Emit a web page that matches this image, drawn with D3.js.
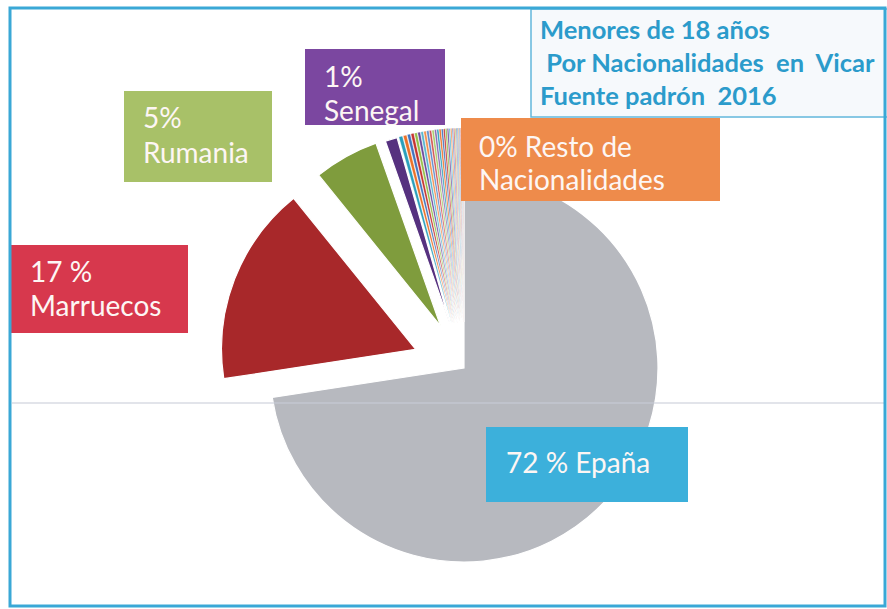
<!DOCTYPE html>
<html><head><meta charset="utf-8">
<script src="https://cdn.jsdelivr.net/npm/d3@7"></script>
<style>html,body{margin:0;padding:0;background:#fff;} svg{display:block;}</style>
</head><body>
<svg id="chart" width="887" height="609"></svg>
<script>
// ---------- DATA ----------
const titleLines = ["Menores de 18 años", " Por Nacionalidades  en  Vicar", "Fuente padrón  2016"];

const mainCategories = ["España", "Marruecos", "Rumania", "Senegal"];
const mainValues = [72.5, 16.6, 5.4, 1.0];

const restCategories = ["Mali","Guinea","Ghana","Nigeria","Gambia","Mauritania","Guinea-Bissau","Argelia",
  "Bulgaria","Lituania","Rusia","Ucrania","Polonia","Argentina","Ecuador","Colombia","Bolivia","Paraguay",
  "Brasil","Uruguay","Venezuela","Cuba","Perú","Rep. Dominicana","China","Portugal","Italia","Francia",
  "Alemania","Reino Unido","Países Bajos","Bélgica","Costa de Marfil","Camerún"];
const restValues = [0.30,0.28,0.25,0.24,0.22,0.21,0.20,0.19,0.18,0.18,0.17,0.16,0.15,0.15,0.14,0.13,0.12,
  0.12,0.11,0.10,0.10,0.09,0.08,0.08,0.07,0.06,0.06,0.05,0.05,0.04,0.04,0.03,0.03,0.02];

const labelKeys  = ["Senegal", "Rumania", "Marruecos", "Resto", "España"];
const labelLines = [["1%", "Senegal"], ["5%", "Rumania"], ["17 %", "Marruecos"],
                    ["0% Resto de", "Nacionalidades"], ["72 % Epaña"]];

// ---------- STYLE / LAYOUT ----------
const W = 887, H = 609;
const center = {x: 464, y: 368};
const R = 194;
const explode = {"España": 0, "Marruecos": 52, "Rumania": 48};
const explodeRest = 46;
const mainColors = {"España": "#b7b9bf", "Marruecos": "#a8282a", "Rumania": "#7f9c3d", "Senegal": "#56317f"};
const restPalette = ["#2a9fbb","#ec7128","#4174bd","#c5322f","#93be47","#6c489b",
                     "#58b6cf","#f28e4c","#5f8ccb","#d25553","#a9cc6c","#8668b1"];
const labelStyle = {
  "Senegal":   {x: 305, y: 49,  w: 140, h: 76, fill: "#7b47a0", tx: 19, base: [38, 72]},
  "Rumania":   {x: 124, y: 91,  w: 148, h: 91, fill: "#a8c168", tx: 19, base: [37, 72]},
  "Marruecos": {x: 11,  y: 245, w: 177, h: 88, fill: "#d7384d", tx: 19, base: [37, 71]},
  "Resto":     {x: 461, y: 118, w: 259, h: 83, fill: "#ee8b4b", tx: 18, base: [39, 72]},
  "España":    {x: 486, y: 427, w: 202, h: 75, fill: "#3cb0db", tx: 20, base: [46]}
};

// ---------- BUILD ----------
const data = mainCategories.map((c, i) => ({cat: c, value: mainValues[i]}))
  .concat(restCategories.map((c, i) => ({cat: c, value: restValues[i], rest: true, idx: i})));

const color = d3.scaleOrdinal()
  .domain(data.map(d => d.cat))
  .range(data.map(d => d.rest ? restPalette[d.idx % restPalette.length] : mainColors[d.cat]));

const svg = d3.select("#chart");
svg.append("rect").attr("x", 0).attr("y", 0).attr("width", W).attr("height", H).attr("fill", "#ffffff");

const pie = d3.pie().sort(null).value(d => d.value).startAngle(0).endAngle(2 * Math.PI);
const arcGen = d3.arc().innerRadius(0).outerRadius(R);
const arcs = pie(data);

const g = svg.append("g").attr("transform", `translate(${center.x},${center.y})`);
g.selectAll("path.slice").data(arcs).join("path")
  .attr("class", "slice")
  .attr("d", arcGen)
  .attr("fill", d => color(d.data.cat))
  .attr("stroke", "#ffffff")
  .attr("stroke-width", d => d.data.rest ? 0.35 : 1.2)
  .attr("transform", d => {
    const off = d.data.cat in explode ? explode[d.data.cat] : explodeRest;
    const mid = (d.startAngle + d.endAngle) / 2;
    return `translate(${Math.sin(mid) * off},${-Math.cos(mid) * off})`;
  });

// faint horizontal scan line
svg.append("line").attr("x1", 12).attr("x2", 884).attr("y1", 403).attr("y2", 403)
  .attr("stroke", "#c9ced8").attr("stroke-width", 1.5).attr("opacity", 0.7);

// title box
svg.append("rect").attr("x", 531).attr("y", 9).attr("width", 370).attr("height", 108)
  .attr("fill", "#f6f9fc").attr("stroke", "#62b7dc").attr("stroke-width", 1.5);
svg.append("g").selectAll("text").data(titleLines).join("text")
  .attr("x", 540).attr("y", (d, i) => 39 + i * 33)
  .attr("xml:space", "preserve").style("white-space", "pre")
  .attr("font-family", "Lato, 'Open Sans', sans-serif").attr("font-weight", 700)
  .attr("font-size", 25.5).attr("fill", "#2b9bcb")
  .text(d => d);

// labels
const defs = svg.append("defs");
labelKeys.forEach((k, i) => {
  const s = labelStyle[k];
  defs.append("clipPath").attr("id", "clip" + i)
    .append("rect").attr("x", s.x).attr("y", s.y).attr("width", s.w).attr("height", s.h);
  const lg = svg.append("g").attr("clip-path", `url(#clip${i})`);
  lg.append("rect").attr("x", s.x).attr("y", s.y).attr("width", s.w).attr("height", s.h).attr("fill", s.fill);
  lg.selectAll("text").data(labelLines[i]).join("text")
    .attr("x", s.x + s.tx).attr("y", (d, j) => s.y + s.base[j])
    .attr("font-family", "Lato, 'Open Sans', sans-serif").attr("font-size", 28)
    .attr("fill", "#fdf6f4")
    .text(d => d);
});

// outer frame
svg.append("rect").attr("x", 10).attr("y", 8).attr("width", 875).attr("height", 598)
  .attr("fill", "none").attr("stroke", "#3aa8d6").attr("stroke-width", 3);
</script>
</body></html>
